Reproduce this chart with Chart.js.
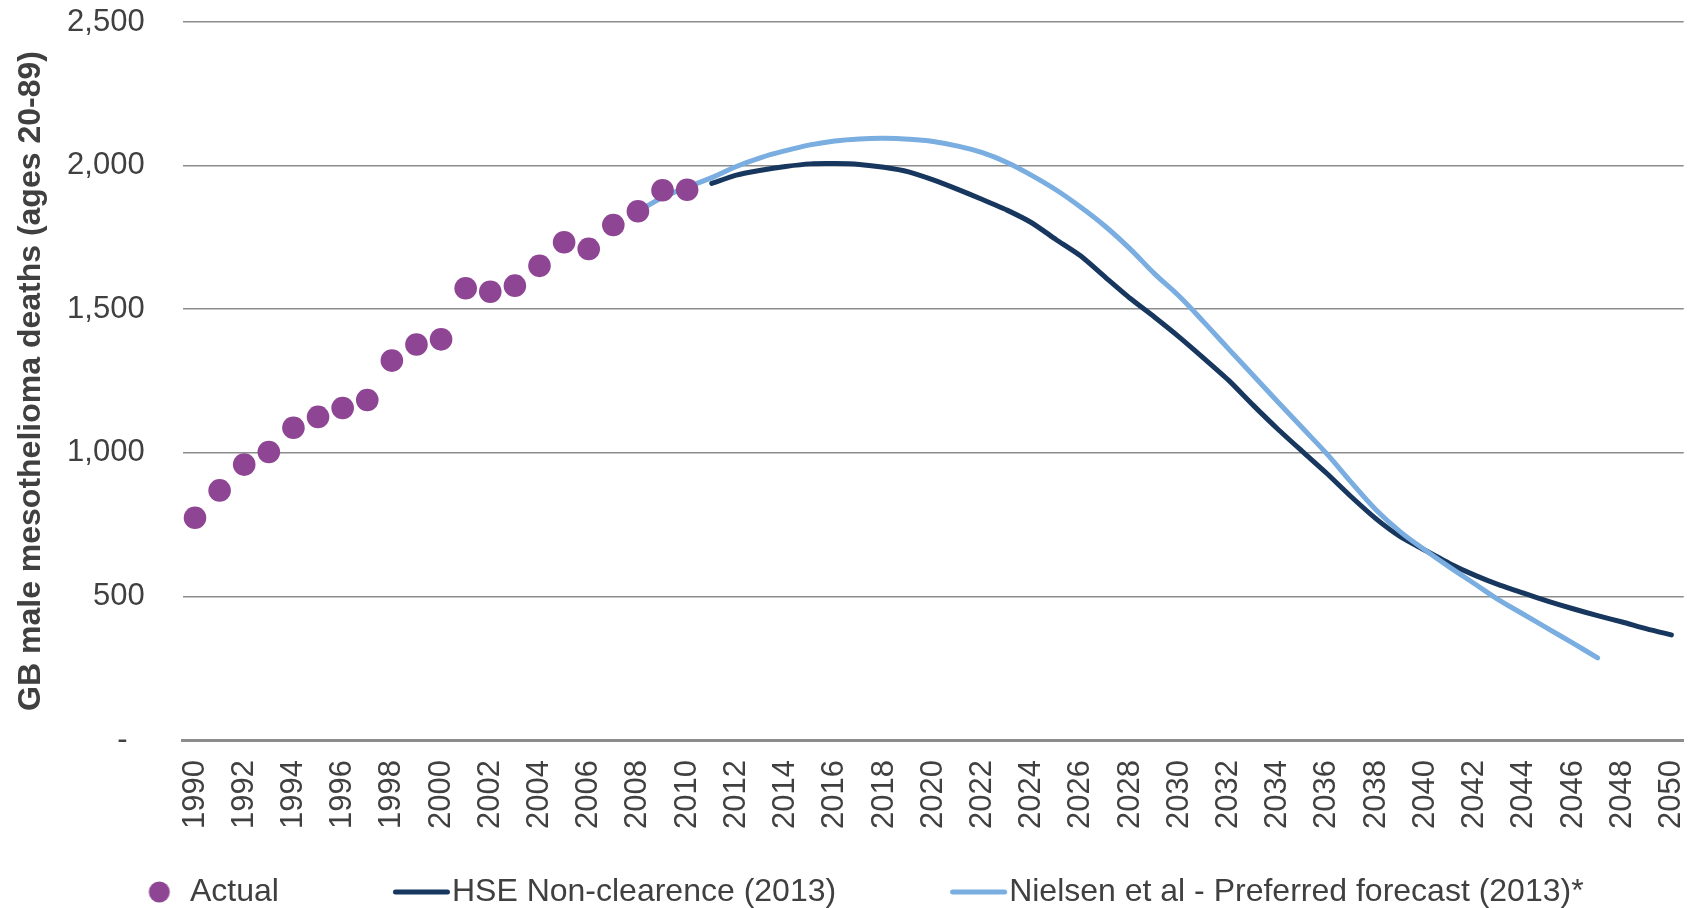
<!DOCTYPE html>
<html>
<head>
<meta charset="utf-8">
<title>GB male mesothelioma deaths</title>
<script src="https://cdn.jsdelivr.net/npm/chart.js@4.4.1/dist/chart.umd.min.js"></script>
<style>
  html, body { margin: 0; padding: 0; background: #fff; }
  #wrap { width: 1695px; height: 908px; }
</style>
</head>
<body>
<div id="wrap"><canvas id="deathsChart"></canvas></div>
<script>
const years = [
    "1990", "1991", "1992", "1993", "1994", "1995", "1996", "1997", "1998", "1999",
    "2000", "2001", "2002", "2003", "2004", "2005", "2006", "2007", "2008", "2009",
    "2010", "2011", "2012", "2013", "2014", "2015", "2016", "2017", "2018", "2019",
    "2020", "2021", "2022", "2023", "2024", "2025", "2026", "2027", "2028", "2029",
    "2030", "2031", "2032", "2033", "2034", "2035", "2036", "2037", "2038", "2039",
    "2040", "2041", "2042", "2043", "2044", "2045", "2046", "2047", "2048", "2049",
    "2050",
];

// 1990 - 2010
const actualDeaths = [
    774, 869, 959, 1003, 1087, 1125, 1156, 1184, 1321, 1377,
    1395, 1573, 1561, 1582, 1651, 1733, 1710, 1793, 1841, 1914,
    1916,
];

// 2011 - 2050
const hseDeaths = [
    1938, 1967, 1984, 1997, 2006, 2007, 2004, 1994, 1978, 1950,
    1917, 1882, 1845, 1801, 1742, 1685, 1611, 1538, 1472, 1403,
    1329, 1253, 1166, 1083, 1005, 928, 846, 770, 707, 660,
    614, 574, 540, 511, 483, 457, 433, 411, 387, 366,
];

// 2008 - 2047
const nielsenDeaths = [
    1841, 1889, 1925, 1958, 1997, 2028, 2052, 2072, 2086, 2093,
    2095, 2092, 2084, 2068, 2045, 2011, 1966, 1915, 1855, 1788,
    1710, 1623, 1545, 1455, 1362, 1270, 1178, 1087, 996, 896,
    801, 724, 661, 601, 544, 487, 437, 387, 337, 286,
];

const yTicks = [0, 500, 1000, 1500, 2000, 2500];

const seriesNames = [
    "Actual",
    "HSE Non-clearence (2013)",
    "Nielsen et al - Preferred forecast (2013)*",
];
const yTitle = "GB male mesothelioma deaths (ages 20-89)";

const purple = "#8E4593";
const navy = "#17375E";
const skyBlue = "#7AADE0";
const textColor = "#404040";
const gridColor = "#8c8c8c";
const fontFamily = "'Liberation Sans', Arial, sans-serif";

const toPoints = (values, firstYear) => {
    const start = years.indexOf(firstYear);
    return values.map((v, i) => ({ x: years[start + i], y: v }));
};

// legend markers: drawn in wide canvases so the gap before each marker
// sits inside the legend box (Chart.js centres the image in the box)
function legendIcon(kind, color) {
    const c = document.createElement("canvas");
    const g = c.getContext("2d");
    if (kind === "dot") {
        c.width = 142;
        c.height = 24;
        g.fillStyle = color;
        g.beginPath();
        g.arc(129.8, 12, 10.5, 0, Math.PI * 2);
        g.fill();
    } else {
        c.width = 183;
        c.height = 8;
        g.strokeStyle = color;
        g.lineWidth = 5;
        g.lineCap = "round";
        g.beginPath();
        g.moveTo(124.5, 4);
        g.lineTo(176.5, 4);
        g.stroke();
    }
    return c;
}
const legendIcons = [
    legendIcon("dot", purple),
    legendIcon("line", navy),
    legendIcon("line", skyBlue),
];

// keep the plot area where the layout padding puts it
const noScalePadding = (scale) => {
    scale.paddingTop = 0;
    scale.paddingBottom = 0;
    scale.paddingLeft = 0;
    scale.paddingRight = 0;
};

const ctx = document.getElementById("deathsChart");

new Chart(ctx, {
    type: "line",
    data: {
        labels: years,
        datasets: [
            {
                label: seriesNames[0],
                data: toPoints(actualDeaths, "1990"),
                showLine: false,
                pointRadius: 11.3,
                pointHoverRadius: 11.3,
                pointBackgroundColor: purple,
                pointBorderWidth: 0,
                backgroundColor: purple,
                borderColor: purple,
                order: 0,
            },
            {
                label: seriesNames[1],
                data: toPoints(hseDeaths, "2011"),
                borderColor: navy,
                backgroundColor: navy,
                borderWidth: 5,
                borderCapStyle: "round",
                pointRadius: 0,
                tension: 0.2,
                order: 2,
            },
            {
                label: seriesNames[2],
                data: toPoints(nielsenDeaths, "2008"),
                borderColor: skyBlue,
                backgroundColor: skyBlue,
                borderWidth: 5,
                borderCapStyle: "round",
                pointRadius: 0,
                tension: 0.4,
                order: 1,
            },
        ],
    },
    options: {
        responsive: true,
        maintainAspectRatio: false,
        animation: false,
        layout: { padding: { top: 22, right: 8.5, bottom: -10, left: 17 } },
        plugins: {
            tooltip: { enabled: false },
            legend: {
                position: "bottom",
                align: "start",
                labels: {
                    usePointStyle: true,
                    pointStyleWidth: 147,
                    padding: 10,
                    color: textColor,
                    font: { family: fontFamily, size: 32 },
                    generateLabels(chart) {
                        const items = Chart.defaults.plugins.legend.labels.generateLabels(chart);
                        items.sort((a, b) => a.datasetIndex - b.datasetIndex);
                        items.forEach((it) => {
                            it.pointStyle = legendIcons[it.datasetIndex];
                        });
                        return items;
                    },
                },
            },
        },
        scales: {
            x: {
                offset: true,
                grid: { display: false, drawTicks: false },
                border: { display: true, color: gridColor, width: 3 },
                ticks: {
                    autoSkip: false,
                    minRotation: 90,
                    maxRotation: 90,
                    padding: 20,
                    color: textColor,
                    font: { family: fontFamily, size: 31 },
                    callback(value, index) {
                        return index % 2 === 0 ? this.getLabelForValue(value) : "";
                    },
                },
                afterFit(scale) {
                    scale.height = 126;
                    noScalePadding(scale);
                },
            },
            y: {
                min: 0,
                max: 2500,
                afterBuildTicks(scale) {
                    scale.ticks = yTicks.map((v) => ({ value: v }));
                },
                grid: { color: gridColor, lineWidth: 1.6, drawTicks: false },
                border: { display: false },
                ticks: {
                    padding: 38,
                    color: textColor,
                    font: { family: fontFamily, size: 31 },
                    callback: (v) => (v === 0 ? "-  " : v.toLocaleString("en-US")),
                },
                title: {
                    display: true,
                    text: yTitle,
                    color: textColor,
                    padding: { top: -2, bottom: 0 },
                    font: { family: fontFamily, size: 32, weight: "bold", lineHeight: 1 },
                },
                afterFit(scale) {
                    scale.width = 165.7;
                    noScalePadding(scale);
                },
            },
        },
    },
});
</script>
</body>
</html>
